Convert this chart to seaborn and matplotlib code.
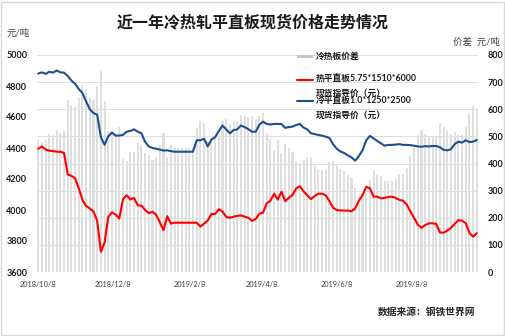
import pandas as pd
import matplotlib
matplotlib.use("Agg")
import matplotlib.pyplot as plt
from matplotlib.lines import Line2D
from matplotlib.patches import Rectangle
import seaborn as sns

# Sampling dates (every third day over the year)
dates = pd.date_range("2018-10-08", "2019-09-30", freq="3D")

# 冷平直板1.0*1250*2500 现货指导价（元/吨）
cold_price = [
    4880, 4888, 4878, 4892, 4886, 4900, 4888, 4886, 4865, 4835,
    4815, 4780, 4755, 4700, 4650, 4625, 4615, 4470, 4420, 4475,
    4500, 4480, 4480, 4485, 4505, 4510, 4520, 4505, 4495, 4440,
    4410, 4400, 4395, 4390, 4383, 4385, 4380, 4376, 4376, 4376,
    4376, 4376, 4376, 4450, 4450, 4460, 4410, 4455, 4470, 4510,
    4545, 4520, 4495, 4515, 4520, 4545, 4535, 4522, 4505, 4505,
    4550, 4570, 4555, 4552, 4555, 4555, 4555, 4530, 4535, 4538,
    4548, 4555, 4532, 4520, 4495, 4490, 4484, 4480, 4473, 4465,
    4425, 4395, 4378, 4368, 4352, 4340, 4318, 4348, 4385, 4450,
    4478, 4462, 4445, 4430, 4415, 4420, 4420, 4422, 4425, 4420,
    4420, 4418, 4415, 4410, 4408, 4412, 4410, 4413, 4413, 4405,
    4388, 4385, 4392, 4425, 4441, 4435, 4450, 4438, 4441, 4452,
]

# 热平直板5.75*1510*6000 现货指导价（元/吨）
hot_price = [
    4395, 4410, 4390, 4383, 4380, 4376, 4376, 4368, 4230, 4220,
    4205, 4140, 4065, 4025, 4010, 3990, 3930, 3730, 3790, 3955,
    3985, 3970, 3945, 4070, 4095, 4068, 4078, 4030, 4028, 4000,
    3980, 3988, 3970, 3920, 3870, 3960, 3912, 3918, 3918, 3918,
    3918, 3918, 3918, 3918, 3893, 3912, 3932, 3975, 3974, 4005,
    3990, 3955, 3950, 3957, 3962, 3965, 3957, 3950, 3930, 3942,
    3975, 3983, 4043, 4060, 4105, 4067, 4118, 4057, 4078, 4097,
    4140, 4153, 4120, 4095, 4070, 4090, 4105, 4105, 4095, 4058,
    4015, 4000, 3997, 3996, 3996, 3992, 4010, 4060, 4095, 4150,
    4140, 4086, 4086, 4075, 4078, 4084, 4086, 4078, 4065, 4060,
    4035, 3990, 3948, 3905, 3885, 3903, 3914, 3914, 3910, 3855,
    3854, 3867, 3885, 3910, 3935, 3931, 3915, 3852, 3828, 3850,
]

tick_dates = ["2018-10-08", "2018-12-08", "2019-02-08", "2019-04-08", "2019-06-08", "2019-08-08"]
tick_labels = ["2018/10/8", "2018/12/8", "2019/2/8", "2019/4/8", "2019/6/8", "2019/8/8"]
price_ticks = [3600, 3800, 4000, 4200, 4400, 4600, 4800, 5000]
spread_ticks = [0, 100, 200, 300, 400, 500, 600, 700, 800]

df = pd.DataFrame({"date": dates, "cold": cold_price, "hot": hot_price})
df["spread"] = df["cold"] - df["hot"]

sns.set_theme(style="white")
plt.rcParams["font.family"] = ["Lato", "Noto Sans CJK SC", "DejaVu Sans"]

W, H = 506, 336
fig = plt.figure(figsize=(W / 100, H / 100), dpi=100)
fig.patch.set_facecolor("white")

L, R, T, B = 37, 478, 55, 272
ax = fig.add_axes([L / W, 1 - B / H, (R - L) / W, (B - T) / H])
ax2 = ax.twinx()

# spread bars on the secondary axis, behind the price lines
ax2.bar(df["date"], df["spread"], width=1.7, color="#dfdfdf", linewidth=0, zorder=2)
ax2.set_ylim(0, 800)
ax2.set_yticks(spread_ticks)
ax2.yaxis.grid(True, color="#dedede", lw=0.7, zorder=0)
ax2.set_axisbelow(True)

ax.set_zorder(ax2.get_zorder() + 1)
ax.patch.set_visible(False)

sns.lineplot(data=df, x="date", y="hot", ax=ax, color="#ff0000", lw=1.5, legend=False)
sns.lineplot(data=df, x="date", y="cold", ax=ax, color="#1f4e8c", lw=1.5, legend=False)
ax.set_ylim(3600, 5000)
ax.set_yticks(price_ticks)
ax.set_xlim(pd.Timestamp("2018-10-07"), pd.Timestamp("2019-10-01"))
ax.set_xticks([pd.Timestamp(d) for d in tick_dates])
ax.set_xticklabels(tick_labels)
ax.set_xlabel("")
ax.set_ylabel("")
ax.grid(False)

for a in (ax, ax2):
    for s in a.spines.values():
        s.set_visible(False)

ax.tick_params(axis="y", length=0, pad=7, labelsize=6.5, labelcolor="#1a1a1a")
for lab in ax.get_yticklabels():
    lab.set_fontweight("bold")
ax2.tick_params(axis="y", length=0, pad=7, labelsize=6.5, labelcolor="#1a1a1a")
for lab in ax2.get_yticklabels():
    lab.set_fontweight("bold")
ax.tick_params(axis="x", length=0, pad=6.3, labelsize=5.3, labelcolor="#404040")

# titles and unit labels
fig.text(252.5 / W, 1 - 22 / H, "近一年冷热轧平直板现货价格走势情况",
         ha="center", va="center", fontsize=11.5, fontweight="bold", color="#1a1a1a")
fig.text(7 / W, 1 - 33.5 / H, "元/吨", ha="left", va="center", fontsize=6.8, color="#404040")
fig.text(500 / W, 1 - 42.5 / H, "价差  元/吨", ha="right", va="center", fontsize=6.8, color="#404040")

# legend
leg_font = dict(fontsize=6.3, fontweight="bold", color="#1a1a1a", va="center", ha="left")
fig.patches.append(Rectangle((297 / W, 1 - 58 / H), 16 / W, 3.5 / H,
                             transform=fig.transFigure, color="#c4c4c4", lw=0))
fig.text(316 / W, 1 - 56.5 / H, "冷热板价差", **leg_font)
fig.lines.append(Line2D([297 / W, 313 / W], [1 - 79.5 / H] * 2, transform=fig.transFigure,
                        color="#ff0000", lw=1.5))
fig.text(316 / W, 1 - 79 / H, "热平直板5.75*1510*6000", **leg_font)
fig.text(316 / W, 1 - 93 / H, "现货指导价（元）", **leg_font)
fig.lines.append(Line2D([297 / W, 313 / W], [1 - 101.5 / H] * 2, transform=fig.transFigure,
                        color="#1f4e8c", lw=1.5))
fig.text(316 / W, 1 - 101 / H, "冷平直板1.0*1250*2500", **leg_font)
fig.text(316 / W, 1 - 115 / H, "现货指导价（元）", **leg_font)

# source note
fig.text(475 / W, 1 - 312 / H, "数据来源：钢铁世界网", ha="right", va="center",
         fontsize=7, fontweight="bold", color="#262626")

# outer frame
fig.patches.append(Rectangle((1 / W, 1 / H), (W - 3) / W, (H - 3) / H, transform=fig.transFigure,
                             fill=False, ec="#d9d9d9", lw=1))

fig.savefig("out.png", dpi=100, facecolor="white")
